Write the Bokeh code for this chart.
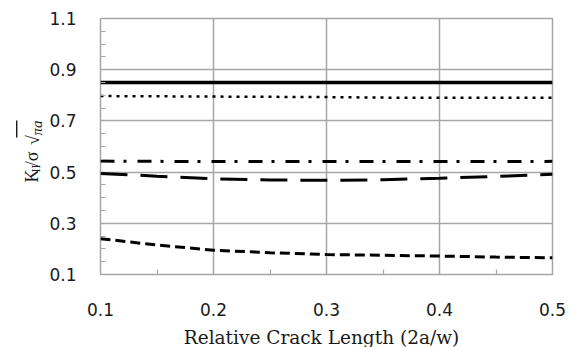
import math
from bokeh.plotting import figure
from bokeh.layouts import column, row
from bokeh.models import FixedTicker, Range1d
from bokeh.core.properties import value
from bokeh.embed import file_html
from bokeh.resources import INLINE

# Relative crack length (2a/w)
crack_ratio = [0.10, 0.15, 0.20, 0.25, 0.30, 0.35, 0.40, 0.45, 0.50]

# Normalised mode II stress intensity factor for each case
k_solid = [0.850, 0.850, 0.850, 0.850, 0.850, 0.850, 0.850, 0.850, 0.850]
k_dotted = [0.797, 0.796, 0.795, 0.794, 0.793, 0.791, 0.790, 0.790, 0.790]
k_dashdot = [0.543, 0.542, 0.541, 0.541, 0.541, 0.541, 0.541, 0.541, 0.542]
k_longdash = [0.495, 0.484, 0.474, 0.469, 0.468, 0.470, 0.476, 0.483, 0.492]
k_shortdash = [0.240, 0.215, 0.195, 0.185, 0.178, 0.175, 0.172, 0.168, 0.165]

x_ticks = [0.1, 0.2, 0.3, 0.4, 0.5]
x_tick_labels = ["0.1", "0.2", "0.3", "0.4", "0.5"]
y_ticks = [0.1, 0.3, 0.5, 0.7, 0.9, 1.1]
y_tick_labels = ["0.1", "0.3", "0.5", "0.7", "0.9", "1.1"]

TEXT = "#1a1a1a"
GRID = "#a6a6a6"
TITLE_W = 46     # strip holding the vertical axis title
MAIN_H = 326     # height of the chart row
XTITLE_H = 21    # strip holding the horizontal axis title

# ---- main chart -----------------------------------------------------------
p = figure(width=569 - TITLE_W, height=MAIN_H, output_backend="svg",
           toolbar_location=None,
           x_range=Range1d(0.1, 0.5), y_range=Range1d(0.1, 1.1),
           min_border_left=97 - TITLE_W, min_border_right=17,
           min_border_top=18, min_border_bottom=MAIN_H - 274)
p.background_fill_color = "white"
p.border_fill_color = "white"
p.outline_line_color = GRID
p.outline_line_width = 1.5

p.xgrid.grid_line_color = GRID
p.ygrid.grid_line_color = GRID
p.xgrid.grid_line_width = 1.5
p.ygrid.grid_line_width = 1.5

x_minor = [0.15, 0.25, 0.35, 0.45]
y_minor = [round(0.1 + 0.05 * i, 2) for i in range(21) if i % 4 != 0]
p.xaxis.ticker = FixedTicker(ticks=x_ticks, minor_ticks=x_minor)
p.yaxis.ticker = FixedTicker(ticks=y_ticks, minor_ticks=y_minor)
p.xgrid.ticker = FixedTicker(ticks=x_ticks)
p.ygrid.ticker = FixedTicker(ticks=y_ticks)
p.xaxis.major_label_overrides = dict(zip(x_ticks, x_tick_labels))
p.yaxis.major_label_overrides = dict(zip(y_ticks, y_tick_labels))

for ax in (p.xaxis[0], p.yaxis[0]):
    ax.axis_line_color = None
    ax.major_tick_line_color = None
    ax.minor_tick_line_color = GRID
    ax.minor_tick_line_width = 1.2
    ax.minor_tick_in = 5
    ax.minor_tick_out = 0
    ax.major_tick_in = 0
    ax.major_tick_out = 0
    ax.major_label_text_font = "DejaVu Sans"
    ax.major_label_text_font_size = "17px"
    ax.major_label_text_color = TEXT

p.xaxis.major_label_standoff = 28
p.yaxis.major_label_standoff = 24

p.line(crack_ratio, k_solid, line_color="black", line_width=3.5)
p.line(crack_ratio, k_dotted, line_color="black", line_width=2.5, line_dash="3 5")
p.line(crack_ratio, k_dashdot, line_color="black", line_width=3, line_dash="14 9 3 11")
p.line(crack_ratio, k_longdash, line_color="black", line_width=3, line_dash="27 13")
p.line(crack_ratio, k_shortdash, line_color="black", line_width=3, line_dash="10 5")


def strip(width, height):
    f = figure(width=width, height=height, output_backend="svg",
               toolbar_location=None, x_range=Range1d(0, width),
               y_range=Range1d(0, height), x_axis_location=None,
               y_axis_location=None, min_border=0)
    f.grid.visible = False
    f.outline_line_color = None
    f.background_fill_color = "white"
    f.border_fill_color = "white"
    return f


# ---- vertical axis title: K_II / sigma sqrt(pi a), rotated -----------------
yt = strip(TITLE_W, MAIN_H)
rot = math.pi / 2
SHIFT = 22  # downward nudge of the whole title, in pixels
def vtext(txt, x, y_top, size, style="normal"):
    yt.text(x=[x], y=[MAIN_H - y_top - SHIFT], text=[txt], angle=rot,
            text_align="left", text_baseline="alphabetic",
            text_font=value("Liberation Serif"), text_font_style=style,
            text_font_size=size, text_color=TEXT)

vtext("K", 31, 187, "18px")
vtext("II", 35, 174, "12px")
vtext("/σ", 31, 166, "18px")
vtext("√", 32, 139, "18px")
vtext("πa", 36, 127, "15px", style="italic")
yt.segment(x0=[16.2], y0=[MAIN_H - 108 - SHIFT], x1=[16.2],
           y1=[MAIN_H - 129.5 - SHIFT], line_color=TEXT, line_width=1.4)

# ---- horizontal axis title -------------------------------------------------
xt = strip(569, XTITLE_H)
xt.text(x=[321], y=[10.5], text=["Relative Crack Length (2a/w)"],
        text_align="center", text_baseline="middle",
        text_font=value("DejaVu Serif"), text_font_size="18.5px",
        text_color=TEXT)

layout = column(row(yt, p, spacing=0), xt, spacing=0)
open("out.html", "w").write(file_html(layout, INLINE))
